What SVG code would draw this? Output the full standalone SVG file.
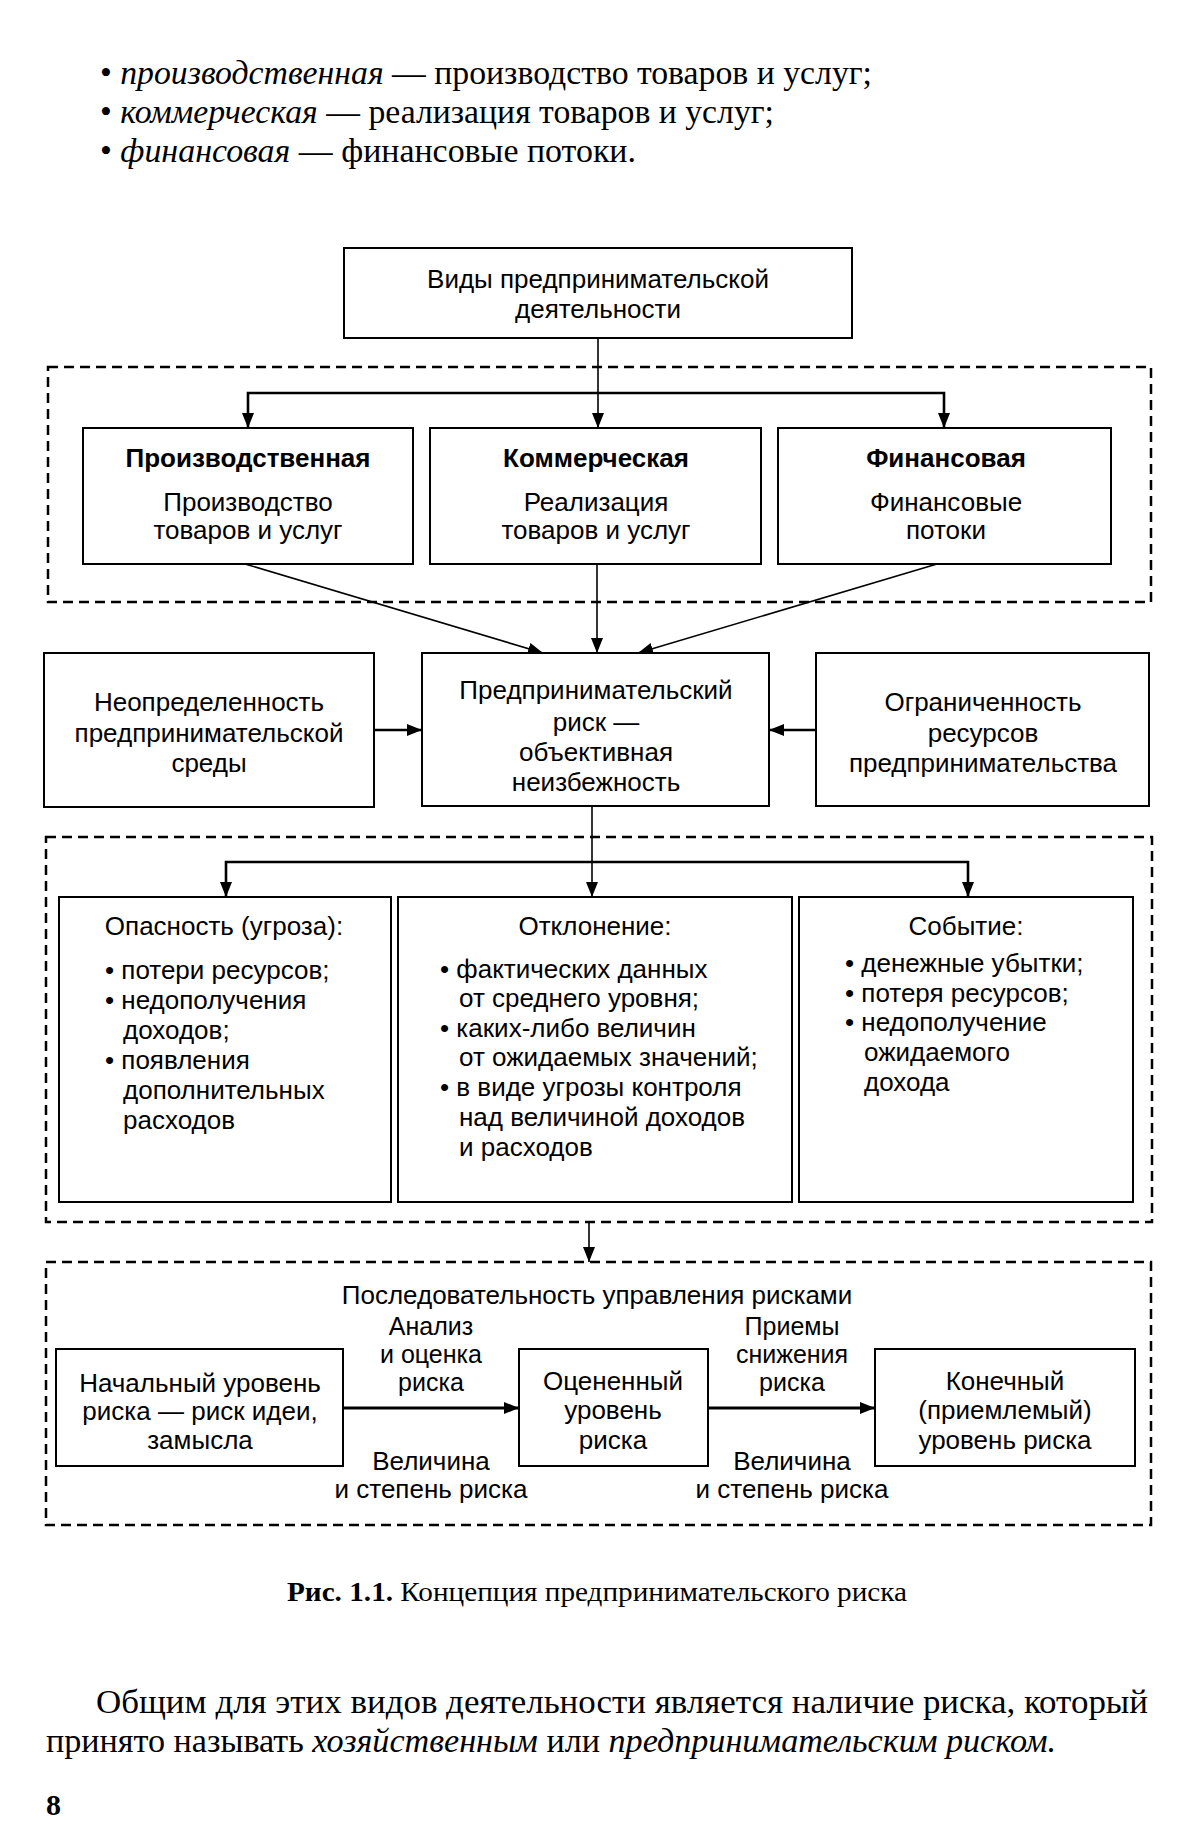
<svg xmlns="http://www.w3.org/2000/svg" width="1200" height="1838" viewBox="0 0 1200 1838">
<defs>
<marker id="ah" markerUnits="userSpaceOnUse" markerWidth="16" markerHeight="14" refX="15" refY="6" orient="auto">
<path d="M0,0 L15,6 L0,12 z" fill="#000"/>
</marker>
<style>
.sr{font-family:"Liberation Serif","Times New Roman",serif;fill:#000}
.ss{font-family:"Liberation Sans",Arial,sans-serif;font-size:26px;fill:#000}
.lbl{font-size:25px}
.c{text-anchor:middle}
.b{font-weight:bold}
.box{fill:#fff;stroke:#000;stroke-width:2}
.dash{fill:none;stroke:#000;stroke-width:2.5;stroke-dasharray:10 6}
.ln{fill:none;stroke:#000;stroke-width:1.6}
.lt{fill:none;stroke:#000;stroke-width:2.6}
.lb{fill:none;stroke:#000;stroke-width:3}
</style>
</defs>
<rect x="0" y="0" width="1200" height="1838" fill="#fff"/>

<g id="intro">
<text class="sr" x="100" y="84" font-size="33" textLength="772" lengthAdjust="spacingAndGlyphs">• <tspan font-style="italic">производственная</tspan> — производство товаров и услуг;</text>
<text class="sr" x="100" y="123" font-size="33" textLength="674" lengthAdjust="spacingAndGlyphs">• <tspan font-style="italic">коммерческая</tspan> — реализация товаров и услуг;</text>
<text class="sr" x="100" y="162" font-size="33" textLength="536" lengthAdjust="spacingAndGlyphs">• <tspan font-style="italic">финансовая</tspan> — финансовые потоки.</text>
</g>

<g id="groups">
<rect class="dash" x="48" y="367" width="1103" height="235"/>
<rect class="dash" x="46" y="837" width="1106" height="385"/>
<rect class="dash" x="46" y="1262" width="1105" height="263"/>
</g>

<g id="connectors">
<line class="ln" x1="598" y1="338" x2="598" y2="428" marker-end="url(#ah)"/>
<polyline class="lt" points="248,428 248,393 944,393 944,428"/>
<line class="ln" x1="248" y1="400" x2="248" y2="428" marker-end="url(#ah)"/>
<line class="ln" x1="944" y1="400" x2="944" y2="428" marker-end="url(#ah)"/>
<line class="ln" x1="245" y1="564" x2="543" y2="653" marker-end="url(#ah)"/>
<line class="ln" x1="597" y1="564" x2="597" y2="653" marker-end="url(#ah)"/>
<line class="ln" x1="937" y1="564" x2="638" y2="653" marker-end="url(#ah)"/>
<line class="lt" x1="374" y1="730" x2="422" y2="730" marker-end="url(#ah)"/>
<line class="lt" x1="816" y1="730" x2="769" y2="730" marker-end="url(#ah)"/>
<line class="ln" x1="592" y1="806" x2="592" y2="897" marker-end="url(#ah)"/>
<polyline class="lt" points="226,897 226,862 968,862 968,897"/>
<line class="ln" x1="226" y1="870" x2="226" y2="897" marker-end="url(#ah)"/>
<line class="ln" x1="968" y1="870" x2="968" y2="897" marker-end="url(#ah)"/>
<line class="ln" x1="589" y1="1222" x2="589" y2="1262" marker-end="url(#ah)"/>
<line class="lb" x1="343" y1="1408" x2="519" y2="1408" marker-end="url(#ah)"/>
<line class="lb" x1="708" y1="1408" x2="875" y2="1408" marker-end="url(#ah)"/>
</g>

<g id="n-types">
<rect class="box" x="344" y="248" width="508" height="90"/>
<text class="ss c" x="598" y="288">Виды предпринимательской</text>
<text class="ss c" x="598" y="318">деятельности</text>
</g>

<g id="n-prod">
<rect class="box" x="83" y="428" width="330" height="136"/>
<text class="ss c b" x="248" y="467">Производственная</text>
<text class="ss c" x="248" y="511">Производство</text>
<text class="ss c" x="248" y="539">товаров и услуг</text>
</g>

<g id="n-comm">
<rect class="box" x="430" y="428" width="331" height="136"/>
<text class="ss c b" x="596" y="467">Коммерческая</text>
<text class="ss c" x="596" y="511">Реализация</text>
<text class="ss c" x="596" y="539">товаров и услуг</text>
</g>

<g id="n-fin">
<rect class="box" x="778" y="428" width="333" height="136"/>
<text class="ss c b" x="946" y="467">Финансовая</text>
<text class="ss c" x="946" y="511">Финансовые</text>
<text class="ss c" x="946" y="539">потоки</text>
</g>

<g id="n-uncert">
<rect class="box" x="44" y="653" width="330" height="154"/>
<text class="ss c" x="209" y="711">Неопределенность</text>
<text class="ss c" x="209" y="742">предпринимательской</text>
<text class="ss c" x="209" y="772">среды</text>
</g>

<g id="n-risk">
<rect class="box" x="422" y="653" width="347" height="153"/>
<text class="ss c" x="596" y="699">Предпринимательский</text>
<text class="ss c" x="596" y="731">риск —</text>
<text class="ss c" x="596" y="761">объективная</text>
<text class="ss c" x="596" y="791">неизбежность</text>
</g>

<g id="n-limit">
<rect class="box" x="816" y="653" width="333" height="153"/>
<text class="ss c" x="983" y="711">Ограниченность</text>
<text class="ss c" x="983" y="742">ресурсов</text>
<text class="ss c" x="983" y="772">предпринимательства</text>
</g>

<g id="n-danger">
<rect class="box" x="59" y="897" width="332" height="305"/>
<text class="ss c" x="224" y="935">Опасность (угроза):</text>
<text class="ss" x="105" y="979">• потери ресурсов;</text>
<text class="ss" x="105" y="1009">• недополучения</text>
<text class="ss" x="123" y="1039">доходов;</text>
<text class="ss" x="105" y="1069">• появления</text>
<text class="ss" x="123" y="1099">дополнительных</text>
<text class="ss" x="123" y="1129">расходов</text>
</g>

<g id="n-deviation">
<rect class="box" x="398" y="897" width="394" height="305"/>
<text class="ss c" x="595" y="935">Отклонение:</text>
<text class="ss" x="440" y="978">• фактических данных</text>
<text class="ss" x="459" y="1007">от среднего уровня;</text>
<text class="ss" x="440" y="1037">• каких-либо величин</text>
<text class="ss" x="459" y="1066">от ожидаемых значений;</text>
<text class="ss" x="440" y="1096">• в виде угрозы контроля</text>
<text class="ss" x="459" y="1126">над величиной доходов</text>
<text class="ss" x="459" y="1156">и расходов</text>
</g>

<g id="n-event">
<rect class="box" x="799" y="897" width="334" height="305"/>
<text class="ss c" x="966" y="935">Событие:</text>
<text class="ss" x="845" y="972">• денежные убытки;</text>
<text class="ss" x="845" y="1002">• потеря ресурсов;</text>
<text class="ss" x="845" y="1031">• недополучение</text>
<text class="ss" x="864" y="1061">ожидаемого</text>
<text class="ss" x="864" y="1091">дохода</text>
</g>

<g id="n-seq-title">
<text class="ss c" x="597" y="1304">Последовательность управления рисками</text>
</g>

<g id="n-initial">
<rect class="box" x="56" y="1349" width="287" height="117"/>
<text class="ss c" x="200" y="1392">Начальный уровень</text>
<text class="ss c" x="200" y="1420">риска — риск идеи,</text>
<text class="ss c" x="200" y="1449">замысла</text>
</g>

<g id="n-assessed">
<rect class="box" x="519" y="1349" width="189" height="117"/>
<text class="ss c" x="613" y="1390">Оцененный</text>
<text class="ss c" x="613" y="1419">уровень</text>
<text class="ss c" x="613" y="1449">риска</text>
</g>

<g id="n-final">
<rect class="box" x="875" y="1349" width="260" height="117"/>
<text class="ss c" x="1005" y="1390">Конечный</text>
<text class="ss c" x="1005" y="1419">(приемлемый)</text>
<text class="ss c" x="1005" y="1449">уровень риска</text>
</g>

<g id="labels">
<text class="ss lbl c" x="431" y="1335">Анализ</text>
<text class="ss lbl c" x="431" y="1363">и оценка</text>
<text class="ss lbl c" x="431" y="1391">риска</text>
<text class="ss c" x="431" y="1470">Величина</text>
<text class="ss c" x="431" y="1498">и степень риска</text>
<text class="ss lbl c" x="792" y="1335">Приемы</text>
<text class="ss lbl c" x="792" y="1363">снижения</text>
<text class="ss lbl c" x="792" y="1391">риска</text>
<text class="ss c" x="792" y="1470">Величина</text>
<text class="ss c" x="792" y="1498">и степень риска</text>
</g>

<g id="caption">
<text class="sr" x="287" y="1601" font-size="27" textLength="620" lengthAdjust="spacingAndGlyphs"><tspan font-weight="bold">Рис. 1.1.</tspan> Концепция предпринимательского риска</text>
</g>

<g id="body">
<text class="sr" x="96" y="1713" font-size="33" textLength="1052" lengthAdjust="spacingAndGlyphs">Общим для этих видов деятельности является наличие риска, который</text>
<text class="sr" x="46" y="1752" font-size="33" textLength="1010" lengthAdjust="spacingAndGlyphs">принято называть <tspan font-style="italic">хозяйственным</tspan> или <tspan font-style="italic">предпринимательским риском.</tspan></text>
<text class="sr b" x="46" y="1815" font-size="30">8</text>
</g>
</svg>
